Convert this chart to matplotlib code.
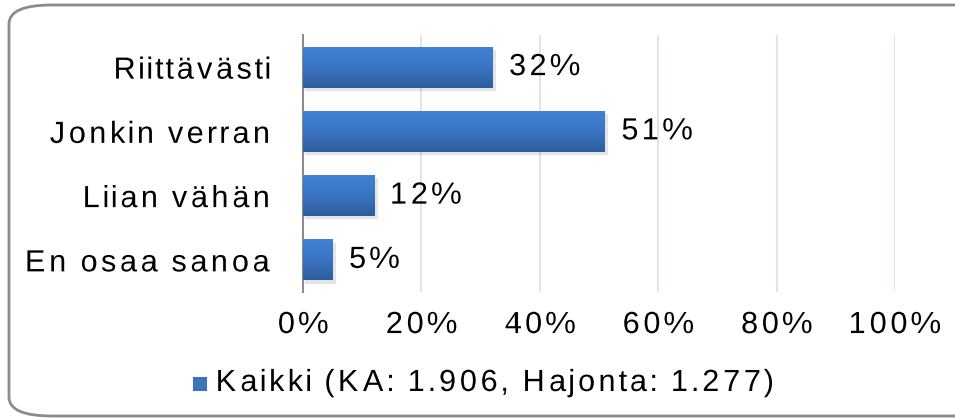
import numpy as np
import matplotlib.pyplot as plt
import matplotlib.patheffects as pe
from matplotlib.path import Path
from matplotlib.transforms import Affine2D
from matplotlib.patches import FancyBboxPatch, Rectangle
from matplotlib.colors import LinearSegmentedColormap

plt.rcParams['font.family'] = ['Liberation Sans', 'DejaVu Sans']

# Data
kategoriat = ['Riittävästi', 'Jonkin verran', 'Liian vähän', 'En osaa sanoa']
arvot = [32, 51, 12, 5]
tikit = [0, 20, 40, 60, 80, 100]
selite = 'Kaikki (KA: 1.906, Hajonta: 1.277)'

fs = 22


class Harvennus(pe.AbstractPathEffect):
    """Wider letter spacing: every glyph contour is moved away from the anchor."""

    def __init__(self, kerroin, ankkuri):
        super().__init__()
        self.kerroin = kerroin
        self.ankkuri = ankkuri

    def draw_path(self, renderer, gc, tpath, affine, rgbFace=None):
        verts = affine.transform(tpath.vertices)
        codes = tpath.codes
        if codes is None or len(verts) == 0:
            renderer.draw_path(gc, tpath, affine, rgbFace)
            return
        oikeat = codes != Path.CLOSEPOLY
        x0, x1 = verts[oikeat, 0].min(), verts[oikeat, 0].max()
        a = {'left': x0, 'right': x1, 'center': (x0 + x1) / 2}[self.ankkuri]
        alut = list(np.where(codes == Path.MOVETO)[0]) + [len(codes)]
        uudet = verts.copy()
        for i, j in zip(alut[:-1], alut[1:]):
            m = oikeat[i:j]
            cx = verts[i:j][m, 0].mean() if m.any() else a
            uudet[i:j, 0] += (self.kerroin - 1) * (cx - a)
        renderer.draw_path(gc, Path(uudet, codes), Affine2D(), rgbFace)


k = 1.22

fig = plt.figure(figsize=(9.55, 4.19), dpi=100)

# Rounded frame around the chart
kehys = FancyBboxPatch((9 / 955, 3 / 419), 1.2, 414 / 419 - 3 / 419,
                       boxstyle='round,pad=0,rounding_size=0.045',
                       transform=fig.transFigure, fill=False,
                       edgecolor='#8c8c8c', linewidth=2, clip_on=False)
fig.patches.append(kehys)

ax = fig.add_axes([303 / 955, 1 - 292 / 419, 592 / 955, 257 / 419])

y = np.arange(len(kategoriat))
korkeus = 0.64
cmap = LinearSegmentedColormap.from_list('sini', ['#4082d4', '#3a74c2', '#2f5c9c'])
grad = np.linspace(0, 1, 100).reshape(-1, 1)

for yi, v in zip(y, arvot):
    # shadow
    ax.add_patch(Rectangle((0.3, yi - korkeus / 2 + 0.05), v + 0.3, korkeus,
                           facecolor='#000000', alpha=0.10, edgecolor='none', zorder=2))
    palkki = ax.barh(yi, v, height=korkeus, color='none', edgecolor='none', zorder=3)[0]
    im = ax.imshow(grad, cmap=cmap, aspect='auto', zorder=3, origin='upper',
                   extent=(0, v, yi + korkeus / 2, yi - korkeus / 2))
    im.set_clip_path(palkki)
    ax.text(v + 2.5, yi, f'{v}%', va='center', ha='left', fontsize=fs, color='#000000',
            path_effects=[Harvennus(k, 'left')])

ax.set_xlim(0, 100)
ax.set_ylim(len(kategoriat) - 0.5, -0.5)
ax.set_yticks(y)
ax.set_yticklabels(kategoriat, fontsize=fs)
ax.set_xticks(tikit)
ax.set_xticklabels([f'{t}%' for t in tikit], fontsize=fs)
ax.tick_params(axis='y', length=0, pad=23)
ax.tick_params(axis='x', length=0, pad=13)
for t in ax.get_yticklabels():
    t.set_path_effects([Harvennus(k, 'right')])
for t in ax.get_xticklabels():
    t.set_path_effects([Harvennus(k, 'center')])

ax.grid(axis='x', color='#d6e2ef', linewidth=1.2, zorder=0)
ax.set_axisbelow(True)
for s in ['top', 'right', 'bottom']:
    ax.spines[s].set_visible(False)
ax.spines['left'].set_color('#8c8c8c')
ax.spines['left'].set_linewidth(1.5)

# Legend
fig.patches.append(Rectangle((193 / 955, 1 - 391 / 419), 14 / 955, 14 / 419,
                             transform=fig.transFigure, facecolor='#3a72bd',
                             edgecolor='none'))
fig.text(214 / 955, 1 - 383 / 419, selite, fontsize=fs, va='center', ha='left',
         path_effects=[Harvennus(k, 'left')])

fig.savefig('out.png', dpi=100)
